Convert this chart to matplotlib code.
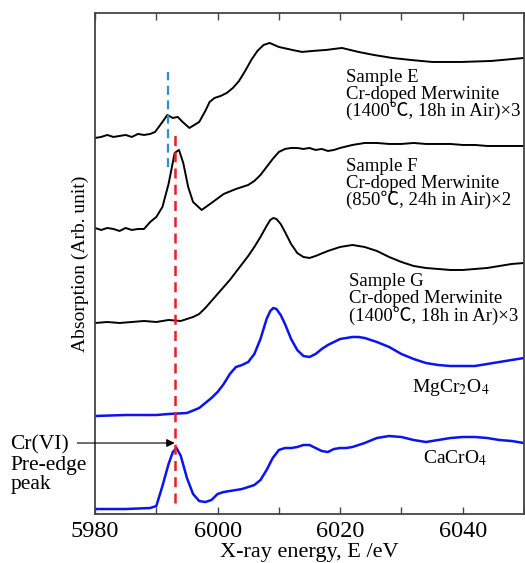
import matplotlib
matplotlib.use("Agg")
import matplotlib.pyplot as plt
from matplotlib.ticker import MultipleLocator

plt.rcParams['font.family'] = ['Liberation Serif', 'Noto Sans CJK JP', 'DejaVu Serif']
plt.rcParams['mathtext.fontset'] = 'stix'

# CaCrO4 (blue, bottom)
e_cacro4 = [5980, 5985, 5989, 5990, 5991, 5992, 5992.7, 5993.3, 5994, 5995, 5996, 5997,
            5998, 5999, 6000, 6001, 6002, 6003, 6004, 6005, 6006, 6007, 6008, 6009, 6010,
            6011, 6012, 6013, 6014, 6015, 6016, 6017, 6018, 6019, 6020, 6021, 6022, 6024,
            6026, 6028, 6030, 6032, 6034, 6036, 6038, 6040, 6042, 6044, 6046, 6048, 6050]
a_cacro4 = [5, 5, 6, 8, 28, 50, 62, 66, 58, 36, 20, 13,
            12, 14, 20, 22, 23, 24, 25, 27, 29, 34, 44, 56, 64,
            66, 66, 67, 69, 69, 66, 63, 62, 65, 66, 66, 67, 71,
            76, 78, 77, 74, 72, 74, 76, 77, 77, 76, 74, 73, 71]

# MgCr2O4 (blue)
e_mgcr2o4 = [5980, 5985, 5990, 5992, 5995, 5997, 5999, 6000, 6001, 6002, 6003, 6004, 6005,
             6006, 6007, 6008, 6008.6, 6009.1, 6009.6, 6010.3, 6011, 6012, 6013, 6014, 6015,
             6016, 6017, 6018, 6019, 6020, 6021, 6022, 6023, 6024, 6026, 6028, 6030, 6032,
             6034, 6036, 6038, 6040, 6042, 6044, 6046, 6048, 6050]
a_mgcr2o4 = [98, 99, 99, 100, 101, 106, 116, 122, 130, 140, 147, 149, 152,
             160, 175, 195, 203, 206, 205, 199, 190, 175, 164, 158, 157,
             160, 165, 169, 172, 175, 176, 177, 177, 176, 172, 167, 160, 155,
             151, 149, 148, 148, 148, 150, 152, 154, 156]

# Sample G (1400C, 18h in Ar) x3
e_g = [5980, 5982, 5984, 5986, 5988, 5990, 5992, 5994, 5995, 5996, 5997, 5998, 5999,
       6000, 6001, 6002, 6003, 6004, 6005, 6006, 6007, 6008, 6008.6, 6009.1, 6009.6,
       6010.3, 6011, 6012, 6013, 6014, 6015, 6016, 6018, 6020, 6022, 6024, 6026, 6028,
       6030, 6032, 6034, 6036, 6038, 6040, 6042, 6044, 6046, 6048, 6050]
a_g = [191, 192, 191, 192, 193, 192, 194, 193, 195, 197, 200, 206, 213,
       220, 227, 234, 242, 250, 258, 267, 277, 288, 294, 296, 295,
       290, 282, 270, 261, 257, 256, 258, 263, 267, 269, 267, 263, 257,
       252, 248, 246, 245, 244, 244, 245, 246, 248, 250, 251]

# Sample F (850C, 24h in Air) x2
e_f = [5980, 5981, 5982, 5983, 5984, 5985, 5986, 5987, 5988, 5989, 5990, 5991, 5992,
       5993, 5993.7, 5994.4, 5995.2, 5996, 5997.4, 5999, 6001, 6003, 6005, 6006, 6007,
       6008, 6009, 6010, 6011, 6012, 6013, 6014, 6015, 6016, 6017, 6018, 6019, 6020,
       6022, 6024, 6026, 6028, 6030, 6032, 6034, 6036, 6038, 6040, 6042, 6044, 6046,
       6048, 6050]
a_f = [286, 284, 286, 285, 283, 286, 284, 285, 285, 292, 297, 307, 330,
       361, 364, 351, 327, 312, 304, 311, 320, 325, 329, 333, 339,
       347, 355, 362, 365, 366, 366, 365, 366, 364, 365, 363, 364, 366,
       369, 371, 371, 370, 370, 371, 370, 370, 370, 369, 369, 368, 368,
       368, 368]

# Sample E (1400C, 18h in Air) x3
e_e = [5980, 5981, 5982, 5983, 5984, 5985, 5986, 5987, 5988, 5989, 5989.8, 5991, 5991.8,
       5992.7, 5993.5, 5994.3, 5995.4, 5997, 5998, 5998.7, 5999.5, 6000.5, 6001.5,
       6002.5, 6003.5, 6004.5, 6005.5, 6006.5, 6007.5, 6008.5, 6010, 6012.2, 6013.8,
       6015.5, 6017.7, 6020.3, 6023, 6025.5, 6028.5, 6031.5, 6035, 6039.8, 6044.7, 6050]
a_e = [376, 377, 379, 377, 378, 379, 377, 380, 379, 380, 382, 392, 399,
       396, 397, 392, 386, 392, 403, 412, 416, 418, 421,
       426, 433, 443, 454, 463, 469, 471, 467, 464, 462,
       463, 464, 466, 462, 459, 456, 454, 452, 452, 453, 456]

# guide lines for the pre-edge peak
blue_dash_x, blue_dash_y = 5991.9, (347, 442)
red_dash_x, red_dash_y = 5993.1, (11, 379)

fig = plt.figure(figsize=(5.25, 5.63), dpi=100)
ax = fig.add_axes([0.181, 0.087, 0.817, 0.890])

blk = dict(color='black', lw=1.4)
blu = dict(color='#0a14f0', lw=1.8)
ax.plot(e_cacro4, a_cacro4, **blu)
ax.plot(e_mgcr2o4, a_mgcr2o4, **blu)
ax.plot(e_g, a_g, **blk)
ax.plot(e_f, a_f, **blk)
ax.plot(e_e, a_e, **blk)

ax.plot([red_dash_x] * 2, red_dash_y, color='#e8201e', lw=1.8, dashes=(4, 2.5))
ax.plot([blue_dash_x] * 2, blue_dash_y, color='#2a8fd6', lw=1.6, dashes=(4, 2.5))

ax.set_xlim(5980, 6050)
ax.set_ylim(0, 501)
ax.xaxis.set_major_locator(MultipleLocator(20))
ax.xaxis.set_minor_locator(MultipleLocator(10))
ax.tick_params(axis='x', which='both', direction='in', top=True, bottom=True,
               length=5, width=1, color='#444444', labelsize=17.5, pad=5)
ax.set_yticks([])
for s in ax.spines.values():
    s.set_color('#444444')
    s.set_linewidth(1.3)

ax.set_xlabel('X-ray energy, E /eV', fontsize=16, labelpad=1)
ax.set_ylabel('Absorption (Arb. unit)', fontsize=14, labelpad=4)

fs = 13.5
ax.text(6021.0, 419, 'Sample E\nCr-doped Merwinite\n(1400℃, 18h in Air)×3',
        fontsize=fs, va='center', ha='left', linespacing=0.95)
ax.text(6021.0, 330, 'Sample F\nCr-doped Merwinite\n(850℃, 24h in Air)×2',
        fontsize=fs, va='center', ha='left', linespacing=0.95)
ax.text(6021.5, 215, 'Sample G\nCr-doped Merwinite\n(1400℃, 18h in Ar)×3',
        fontsize=fs, va='center', ha='left', linespacing=0.95)
ax.text(6031.7, 127, 'MgCr$_2$O$_4$', fontsize=14, va='center', ha='left')
ax.text(6033.6, 56, 'CaCrO$_4$', fontsize=14, va='center', ha='left')

ax.annotate('', xy=(5993.0, 71), xytext=(5977.1, 71), annotation_clip=False,
            arrowprops=dict(arrowstyle='-|>', color='black', lw=0.8,
                            mutation_scale=12, shrinkA=0, shrinkB=0))
ax.text(5966.2, 49, 'Cr(VI)\nPre-edge\npeak', fontsize=15.5, va='center', ha='left',
        linespacing=1.05, clip_on=False)

fig.savefig('out.png', dpi=100)
